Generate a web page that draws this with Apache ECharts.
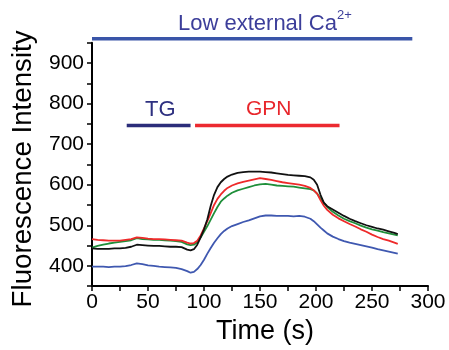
<!DOCTYPE html>
<html><head><meta charset="utf-8">
<script src="https://cdn.jsdelivr.net/npm/echarts@6/dist/echarts.min.js"></script>
<style>html,body{margin:0;padding:0;background:#fff}#c{width:449px;height:350px}</style>
</head><body><div id="c"></div>
<script>
// time points (s)
const time = [0,5,10,15,20,25,30,35,40,45,50,55,60,65,70,75,80,85,88,91,94,97,100,103,106,109,112,115,118,121,125,130,135,140,145,150,155,160,165,170,175,180,185,190,195,198,201,204,207,210,215,220,225,230,235,240,245,250,255,260,265,270,273];
const blackVals = [443,442,442,442,443,443,444,447,452,451,450,449,449,448,447,447,446,440,438,441,452,470,490,515,548,575,594,606,614,620,625,629,631,632,632,632,631,630,628,626,624,623,622,621,618,612,600,575,556,547,539,531,523,516,510,505,500,496,492,489,485,481,478];
const redVals = [466,464,463,462,462,462,464,466,470,469,467,466,466,465,464,463,462,457,455,456,462,475,492,510,530,550,565,576,585,592,598,603,607,610,613,616,614,612,609,606,604,602,600,597,592,586,578,562,548,538,526,517,510,503,497,490,484,477,471,466,462,457,454];
const greenVals = [445,449,452,455,457,459,461,463,468,466,465,464,464,463,462,461,459,453,451,452,458,470,484,498,514,530,545,558,566,573,580,586,590,594,598,601,602,600,598,597,596,595,593,591,589,586,578,566,555,545,533,524,516,510,505,499,494,490,487,483,480,477,475];
const blueVals = [398,398,398,397,398,398,399,402,406,404,401,400,398,397,396,395,392,387,383,385,392,402,415,430,444,457,468,478,486,492,498,503,508,512,517,522,524,524,523,523,523,522,523,521,516,510,502,494,487,480,472,466,461,457,454,451,448,445,441,438,435,432,430];
// annotation bars: [start, end] in seconds and level in intensity units
const lowCaSpan = [0, 286], lowCaLevel = 960;
const tgSpan = [31, 88], gpnSpan = [92, 221], barLevel = 746;
const yTicks = [400,500,600,700,800,900];

const pair = v => time.map((t,i)=>[t,v[i]]);
const FONT = "'Liberation Sans', Arial, sans-serif";
const chart = echarts.init(document.getElementById('c'));
const lineSeries = (vals, color) => ({type:'line', data:pair(vals), symbol:'none', lineStyle:{color, width:1.8}, animation:false, z:3});
const barSeries = (span, level, color, w) => ({type:'line', data:[[span[0],level],[span[1],level]], symbol:'none', clip:false, lineStyle:{color, width:w, cap:'butt'}, animation:false, silent:true});
chart.setOption({
  animation:false,
  grid:{left:92, right:21, top:42.7, bottom:58.3},
  xAxis:{type:'value', min:0, max:300, interval:50,
    name:'Time (s)', nameLocation:'middle', nameGap:26,
    nameTextStyle:{fontFamily:FONT, fontSize:27, color:'#000', padding:[0,0,0,10]},
    axisLine:{lineStyle:{color:'#000', width:2}},
    axisTick:{show:true, length:5, lineStyle:{color:'#000', width:1.5}},
    minorTick:{show:true, splitNumber:2, length:5, lineStyle:{color:'#000', width:1.5}},
    axisLabel:{fontFamily:FONT, fontSize:21, color:'#000', margin:6},
    splitLine:{show:false}},
  yAxis:{type:'value', min:350, max:950, interval:50,
    name:'Fluorescence Intensity', nameLocation:'middle', nameGap:55,
    nameTextStyle:{fontFamily:FONT, fontSize:27.7, color:'#000', padding:[0,9,0,0]},
    axisLine:{show:true, lineStyle:{color:'#000', width:2}},
    axisTick:{show:true, length:5, lineStyle:{color:'#000', width:1.5}},
    axisLabel:{fontFamily:FONT, fontSize:21, color:'#000', margin:8,
      formatter:v => yTicks.includes(v) ? String(v) : ''},
    splitLine:{show:false}},
  series:[
    barSeries(lowCaSpan, lowCaLevel, '#3a55a8', 3.5),
    barSeries(tgSpan, barLevel, '#2b2d7a', 3.5),
    barSeries(gpnSpan, barLevel, '#ec2a30', 3.5),
    lineSeries(blueVals, '#3f58b0'),
    lineSeries(greenVals, '#1f8f3a'),
    lineSeries(redVals, '#ee2a2a'),
    lineSeries(blackVals, '#111111')
  ],
  graphic:[
    {type:'text', left:178, top:13, style:{text:'Low external Ca', fontFamily:FONT, fontSize:22, fill:'#3c3e9a'}},
    {type:'text', left:337, top:9, style:{text:'2+', fontFamily:FONT, fontSize:13, fill:'#3c3e9a'}},
    {type:'text', left:145, top:99, style:{text:'TG', fontFamily:FONT, fontSize:22, fill:'#2e3080'}},
    {type:'text', left:246, top:99, style:{text:'GPN', fontFamily:FONT, fontSize:21, fill:'#e8262b'}}
  ]
});
</script></body></html>
